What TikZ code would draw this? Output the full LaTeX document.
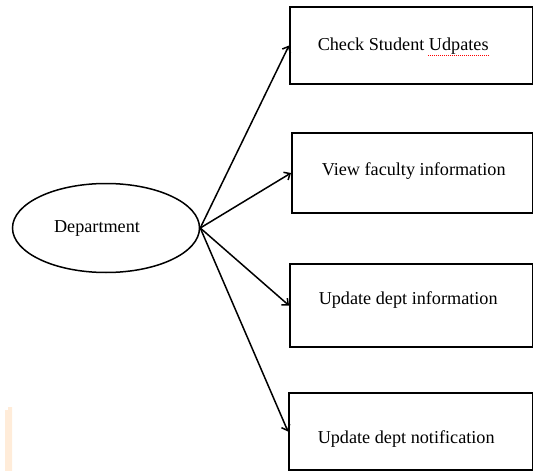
\documentclass[tikz,border=0pt]{standalone}
\usepackage{fontspec}
\setmainfont{Liberation Serif}
\usetikzlibrary{shapes.geometric}
\usetikzlibrary{arrows.meta}

\begin{document}
\begin{tikzpicture}[x=1pt,y=-1pt,line width=1.5pt,>={Straight Barb[length=5pt,width=9pt]},
    uc/.style={draw,ellipse,minimum width=187pt,minimum height=89pt,inner sep=0pt,font=\fontsize{18.2}{20}\selectfont},
    act/.style={draw,rectangle,anchor=west,minimum width=243pt,inner sep=0pt},
    lbl/.style={anchor=west,inner sep=0pt,font=\fontsize{18.2}{20}\selectfont}]
    \useasboundingbox (0,0) rectangle (533,471);
    % faint mark at the bottom left
    \fill[orange!15,draw=none] (5,410) rectangle (12,471) (8,407) rectangle (12,410);
    % actor
    \node[uc] (dep) at (106,228) {\hspace*{-18pt}Department};
    % the four boxes
    \node[act,minimum height=77pt] (chk) at (289,45.5) {};
    \node[act,minimum width=241pt,minimum height=80pt] (fac) at (291,173) {};
    \node[act,minimum height=83pt] (upd) at (289,305.5) {};
    \node[act,minimum width=244pt,minimum height=77pt] (ntf) at (288,431.5) {};
    % texts in the boxes
    \node[lbl] (chkt) at (317,46) {Check Student Udpates};
    \node[lbl] (fact) at (321,171) {View faculty information};
    \node[lbl] (updt) at (318,300) {Update dept information};
    \node[lbl] (ntft) at (317,439) {Update dept notification};
    \draw[red,line width=0.8pt,dash pattern=on 1pt off 1pt] (428,55.5) -- (489,55.5);
    % arrows
    \draw[->] (dep.east) -- (chk.west);
    \draw[->] (dep.east) -- (fac.west);
    \draw[->] (dep.east) -- (upd.west);
    \draw[->] (dep.east) -- (ntf.west);
\end{tikzpicture}
\end{document}
